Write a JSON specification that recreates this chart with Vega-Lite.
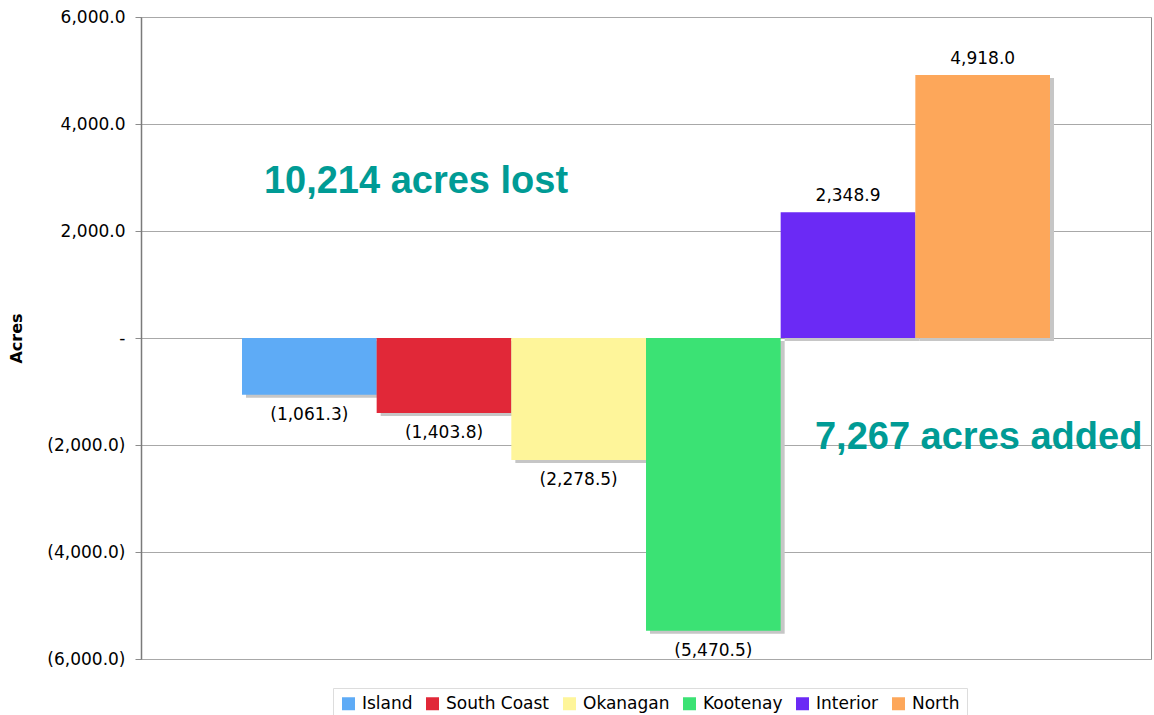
{
  "$schema": "https://vega.github.io/schema/vega-lite/v6.json",
  "width": 1010,
  "height": 642,
  "autosize": {"type": "none"},
  "padding": {"left": 141, "top": 17, "right": 3, "bottom": 56},
  "background": "white",
  "config": {
    "view": {"stroke": "#8c8c8c", "strokeWidth": 1},
    "font": "DejaVu Sans"
  },
  "data": {
    "values": [
      {"region": "Island", "value": -1061.3, "label": "(1,061.3)"},
      {"region": "South Coast", "value": -1403.8, "label": "(1,403.8)"},
      {"region": "Okanagan", "value": -2278.5, "label": "(2,278.5)"},
      {"region": "Kootenay", "value": -5470.5, "label": "(5,470.5)"},
      {"region": "Interior", "value": 2348.9, "label": "2,348.9"},
      {"region": "North", "value": 4918.0, "label": "4,918.0"}
    ]
  },
  "encoding": {
    "x": {
      "field": "region",
      "type": "nominal",
      "sort": ["Island", "South Coast", "Okanagan", "Kootenay", "Interior", "North"],
      "scale": {"domain": ["Island", "South Coast", "Okanagan", "Kootenay", "Interior", "North"], "paddingInner": 0, "paddingOuter": 0.75},
      "axis": null
    },
    "y": {
      "field": "value",
      "type": "quantitative",
      "scale": {"domain": [-6000, 6000], "nice": false, "zero": true},
      "axis": {
        "values": [-6000, -4000, -2000, 0, 2000, 4000, 6000],
        "labelExpr": "datum.value == 0 ? '-\u2002\u2002\u2002\u2009' : (datum.value < 0 ? '(' + format(-datum.value, ',.1f') + ')' : format(datum.value, ',.1f') + '\u2002')",
        "labelFontSize": 17,
        "labelColor": "#000000",
        "labelPadding": 10,
        "tickSize": 6,
        "tickColor": "#8c8c8c",
        "domainColor": "#7a7a7a",
        "domainWidth": 1.5,
        "gridColor": "#a8a8a8",
        "gridWidth": 1,
        "title": "Acres",
        "titleFontSize": 16,
        "titleFontWeight": "bold",
        "titleColor": "#000000",
        "titlePadding": 22
      }
    }
  },
  "layer": [
    {
      "mark": {"type": "bar", "color": "#c6c6c6", "xOffset": 4, "x2Offset": 4, "yOffset": 3, "y2Offset": 3}
    },
    {
      "mark": {"type": "bar"},
      "encoding": {
        "color": {
          "field": "region",
          "type": "nominal",
          "scale": {
            "domain": ["Island", "South Coast", "Okanagan", "Kootenay", "Interior", "North"],
            "range": ["#5eabf6", "#e12838", "#fef59a", "#3be274", "#6b2af5", "#fda75a"]
          },
          "legend": {
            "title": null,
            "orient": "none",
            "legendX": 192,
            "legendY": 671,
            "direction": "horizontal",
            "symbolType": "square",
            "symbolSize": 169,
            "symbolStrokeWidth": 0,
            "symbolOpacity": 1,
            "labelFontSize": 17,
            "labelColor": "#000000",
            "labelOffset": 5,
            "columnPadding": 11,
            "strokeColor": "#dddddd",
            "padding": 7,
            "fillColor": "white"
          }
        }
      }
    },
    {
      "transform": [{"filter": "datum.value > 0"}],
      "mark": {"type": "text", "baseline": "alphabetic", "dy": -11, "fontSize": 17, "color": "#000000"},
      "encoding": {"text": {"field": "label"}}
    },
    {
      "transform": [{"filter": "datum.value < 0"}],
      "mark": {"type": "text", "baseline": "alphabetic", "dy": 25, "fontSize": 17, "color": "#000000"},
      "encoding": {"text": {"field": "label"}}
    },
    {
      "data": {"values": [{"region": "South Coast", "value": 2710, "note": "10,214 acres lost"}]},
      "mark": {"type": "text", "baseline": "alphabetic", "align": "center", "dx": -28, "font": "Liberation Sans", "fontWeight": "bold", "fontSize": 38, "color": "#009b95"},
      "encoding": {"text": {"field": "note"}}
    },
    {
      "data": {"values": [{"region": "North", "value": -2075, "note": "7,267 acres added"}]},
      "mark": {"type": "text", "baseline": "alphabetic", "align": "center", "dx": -4, "font": "Liberation Sans", "fontWeight": "bold", "fontSize": 38, "color": "#009b95"},
      "encoding": {"text": {"field": "note"}}
    }
  ]
}
